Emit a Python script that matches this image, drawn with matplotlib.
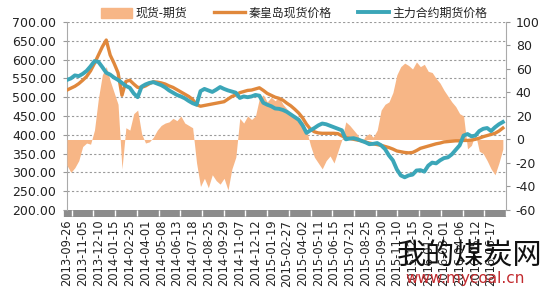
import matplotlib
matplotlib.use("Agg")
import matplotlib.pyplot as plt
from matplotlib.patches import Patch
from matplotlib.lines import Line2D
from matplotlib.ticker import MultipleLocator, FixedLocator

plt.rcParams['font.family'] = ['DejaVu Sans', 'Noto Sans CJK SC']

# ---------------- data ----------------
tick_labels = ["2013-09-26", "2013-11-05", "2013-12-10", "2014-01-15", "2014-02-25",
               "2014-04-01", "2014-05-08", "2014-06-13", "2014-07-18", "2014-08-25",
               "2014-09-29", "2014-11-07", "2014-12-12", "2015-01-19", "2015-02-27",
               "2015-04-02", "2015-05-11", "2015-06-15", "2015-07-21", "2015-08-25",
               "2015-09-30", "2015-11-10", "2015-12-15", "2016-01-20", "2016-03-01",
               "2016-04-06", "2016-05-12", "2016-06-17"]
points_per_label = 4

spot = [519, 524, 529, 536, 545, 555, 570, 590, 612, 634, 652, 612, 590, 565, 505, 542,
        545, 535, 526, 526, 530, 536, 541, 540, 538, 535, 530, 526, 520, 514, 508, 502,
        494, 480, 476, 478, 480, 482, 484, 486, 488, 495, 502, 506, 512, 515, 518, 519,
        522, 525, 518, 510, 505, 500, 497, 492, 484, 477, 468, 458, 445, 428, 415, 408,
        405, 404, 404, 404, 404, 403, 397, 393, 390, 388, 386, 384, 381, 378, 376, 374,
        372, 369, 366, 362, 357, 355, 353, 352, 353, 358, 364, 367, 370, 373, 376, 378,
        381, 382, 383, 384, 384, 385, 385, 386, 388, 391, 395, 398, 401, 404, 410, 418]

futures = [546, 550, 558, 556, 562, 570, 582, 596, 594, 580, 565, 560, 552, 546, 538, 530,
           525, 510, 500, 528, 534, 538, 540, 536, 532, 526, 518, 512, 506, 502, 497, 490,
           484, 480, 516, 522, 518, 514, 520, 527, 522, 518, 515, 512, 498, 502, 500, 502,
           506, 504, 485, 480, 476, 470, 469, 466, 461, 454, 447, 440, 425, 405, 412, 418,
           425, 430, 428, 424, 420, 416, 412, 388, 390, 391, 388, 384, 380, 375, 376, 378,
           372, 362, 345, 332, 308, 292, 287, 292, 294, 305, 306, 302, 318, 326, 324, 332,
           338, 340, 348, 360, 372, 398, 402, 396, 398, 410, 416, 418, 410, 420, 428, 434]

basis = [-22, -28, -24, -18, -6, -3, -4, 8, 35, 55, 62, 50, 40, 30, -25, 10,
         8, 22, 25, 5, -3, -2, 2, 8, 12, 14, 15, 18, 16, 20, 14, 12,
         10, -20, -40, -33, -41, -30, -35, -38, -33, -43, -25, -15, 18, 14, 20, 17,
         20, 35, 38, 32, 36, 33, 36, 30, 26, 22, 20, 18, 15, 8, -5, -15,
         -20, -25, -18, -14, -20, -10, 0, 15, 12, 8, 4, -3, 3, 5, 2, 8,
         25, 30, 32, 40, 55, 62, 65, 63, 60, 66, 62, 64, 58, 57, 52, 48,
         42, 37, 32, 28, 22, 20, -8, -5, 5, -10, -12, -18, -25, -30, -20, -8]

x = list(range(len(spot)))

left_ticks = [200, 250, 300, 350, 400, 450, 500, 550, 600, 650, 700]
right_ticks = [-60, -40, -20, 0, 20, 40, 60, 80, 100]

c_bar = '#F7B686'
c_spot = '#E0883C'
c_fut = '#3BA6B8'
txt = '#222222'

# ---------------- figure ----------------
fig = plt.figure(figsize=(5.5, 3.0), dpi=100)
ax = fig.add_axes([0.1218, 0.30, 0.7982, 0.6267])
axb = ax.twinx()
axl = ax.twinx()

xmax = len(spot) - 1 + 0.8
for a in (ax, axb, axl):
    a.set_xlim(0, xmax)
    a.patch.set_visible(False)

# grid / left axis
ax.set_ylim(200, 700)
ax.set_yticks(left_ticks)
ax.set_yticklabels([f"{v:.2f}" for v in left_ticks], fontsize=9, color=txt)
for v in left_ticks[1:]:
    ax.axhline(v, color='#9a9a9a', lw=0.8, ls=(0, (2, 2)), zorder=0)
ax.tick_params(axis='y', length=3, color='#999999', pad=5)

# x axis: dense gray ticks forming a band
label_pos = [i * points_per_label for i in range(len(tick_labels))]
ax.xaxis.set_major_locator(FixedLocator(label_pos))
ax.set_xticklabels(tick_labels, rotation=90, fontsize=8.3, color=txt)
ax.xaxis.set_minor_locator(MultipleLocator(1))
ax.tick_params(axis='x', which='both', length=5, width=4.5, color='#8c8c8c', pad=2)

# white separators in the gray band
sep = [1.2 + 5.53 * k for k in range(int(xmax / 5.53) + 1)]
ax.vlines(sep, -0.03, 0, transform=ax.get_xaxis_transform(), colors='white',
          lw=1.0, clip_on=False, zorder=5)

for s in ['top', 'right', 'bottom']:
    ax.spines[s].set_visible(False)
ax.spines['left'].set_color('#aaaaaa')

# bars (right axis)
axb.set_ylim(-60, 100)
axb.fill_between(x, 0, basis, color=c_bar, linewidth=0, zorder=1)
axb.set_yticks(right_ticks)
axb.set_yticklabels([str(v) for v in right_ticks], fontsize=9, color=txt)
axb.tick_params(axis='y', length=3, color='#999999', pad=4)
for s in ['top', 'left', 'bottom']:
    axb.spines[s].set_visible(False)
axb.spines['right'].set_color('#aaaaaa')

# lines (left scale)
axl.set_ylim(200, 700)
axl.plot(x, spot, color=c_spot, lw=2.4, solid_joinstyle='round')
axl.plot(x, futures, color=c_fut, lw=2.8, solid_joinstyle='round')
axl.set_yticks([])
for s in axl.spines.values():
    s.set_visible(False)

# legend
handles = [Patch(color=c_bar),
           Line2D([0], [0], color=c_spot, lw=2.4),
           Line2D([0], [0], color=c_fut, lw=2.8)]
labels = ["现货-期货", "秦皇岛现货价格", "主力合约期货价格"]
fig.legend(handles, labels, loc='center', bbox_to_anchor=(0.535, 0.955), ncol=3,
           frameon=False, prop={'family': ['Noto Sans CJK SC'], 'size': 8.6},
           handlelength=2.6, handleheight=0.9, columnspacing=2.2, handletextpad=0.3,
           labelcolor=txt)

# watermark text
fig.text(0.722, 0.145, "我的煤炭网", fontsize=21, color='#111111',
         family=['Noto Sans CJK SC'], va='center', ha='left')
fig.text(0.737, 0.072, "www.mycoal.cn", fontsize=11, color='#C22A2E',
         va='center', ha='left')

fig.savefig("out.png", dpi=100)
